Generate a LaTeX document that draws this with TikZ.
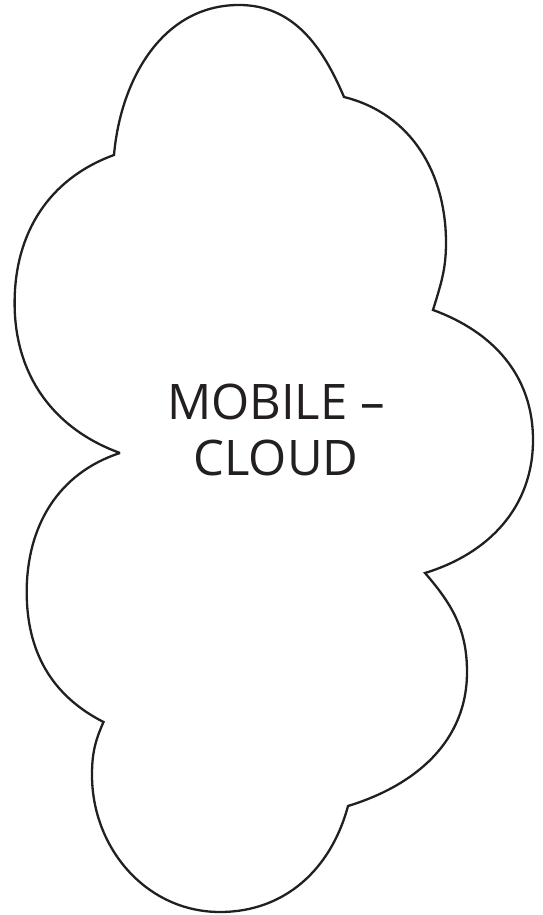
\documentclass[tikz,border=0pt]{standalone}
\usepackage{fontspec}
\setmainfont{Open Sans}
\definecolor{ink}{HTML}{231F20}
\begin{document}
\begin{tikzpicture}[x=1pt,y=1pt,
  cloudline/.style={draw=ink,line width=2.3pt,line join=miter},
  label/.style={text=ink,align=center,inner sep=0pt,font=\fontsize{49}{56}\selectfont}]
\useasboundingbox (0,0) rectangle (542,915);
\coordinate (c1) at (114,760);
\coordinate (c2) at (344,818);
\coordinate (c3) at (433,605);
\coordinate (c4) at (425,342);
\coordinate (c5) at (348,109);
\coordinate (c6) at (103.5,193);
\coordinate (c7) at (120,462);
\coordinate (eL) at (14.6,612);
\coordinate (eT) at (239,910);
\coordinate (eRT) at (446,672);
\coordinate (eR) at (533,475);
\coordinate (eLR) at (467,243);
\coordinate (eB) at (220,3);
\coordinate (eBL) at (92,140);
\coordinate (eLL) at (26.7,323);
\draw[cloudline]
  (c7) to[out=160,in=-90] (eL) to[out=90,in=200] (c1)
  to[out=85,in=180] (eT) to[out=0,in=113] (c2)
  to[out=-14,in=90] (eRT) to[out=-90,in=73] (c3)
  to[out=-20,in=90] (eR) to[out=-90,in=17] (c4)
  to[out=-49,in=90] (eLR) to[out=-90,in=17] (c5)
  to[out=-105,in=0] (eB) to[out=180,in=-90] (eBL) to[out=90,in=-114] (c6)
  to[out=153,in=-90] (eLL) to[out=90,in=198] (c7);
\node[label] (title) at (276,485) {MOBILE –\\CLOUD};
\end{tikzpicture}
\end{document}
